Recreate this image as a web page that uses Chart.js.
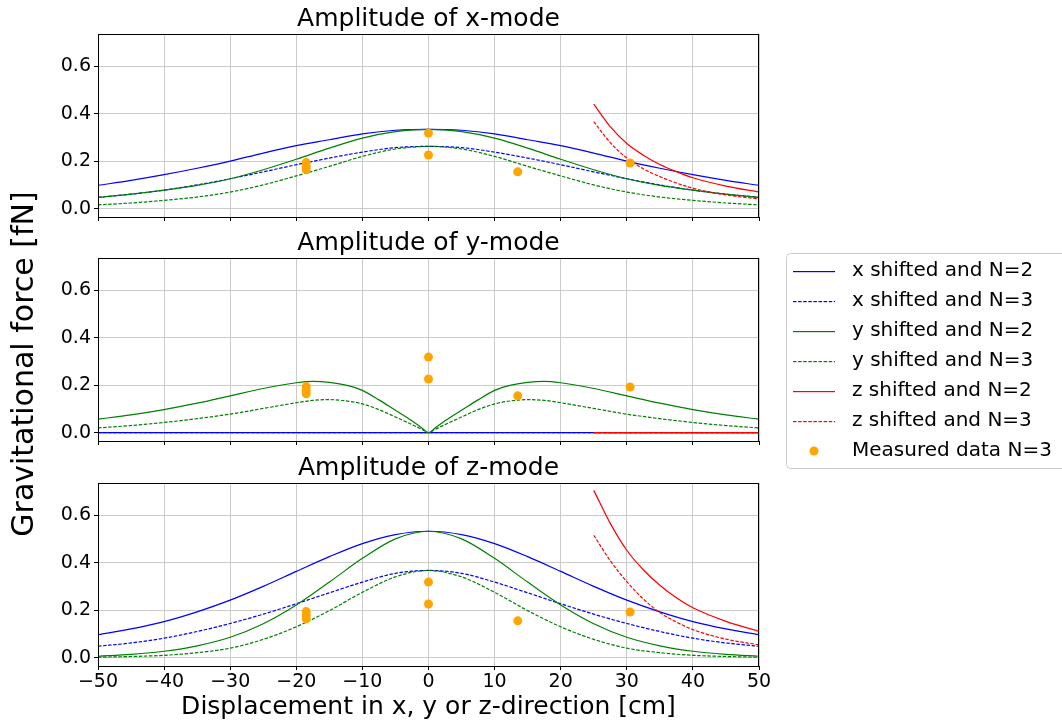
<!DOCTYPE html>
<html>
<head>
<meta charset="utf-8">
<script src="https://cdn.jsdelivr.net/npm/chart.js@4.4.1/dist/chart.umd.min.js"></script>
<style>
  html, body { margin: 0; padding: 0; background: #fff; }
  #fig { position: relative; width: 1062px; height: 724px; background: #fff; overflow: hidden; }
  #fig canvas { position: absolute; left: 0; top: 0; }
</style>
</head>
<body>
<div id="fig">
  <canvas id="xMode" width="1062" height="724"></canvas>
  <canvas id="yMode" width="1062" height="724"></canvas>
  <canvas id="zMode" width="1062" height="724"></canvas>
</div>
<script>
// ---- data ----
const xTicks = [-50, -40, -30, -20, -10, 0, 10, 20, 30, 40, 50];
const yTicks = [0, 0.2, 0.4, 0.6];
const yMin = -0.035;
const yMax = 0.735;

const xFull = [-50, -45, -40, -35, -30, -25, -20, -15, -10, -5, 0, 5, 10, 15, 20, 25, 30, 35, 40, 45, 50];
const xCusp = [-50, -45, -40, -35, -30, -25, -20, -17.5, -15, -12.5, -10, -7.5, -5, -2.5, -1, 0,
               1, 2.5, 5, 7.5, 10, 12.5, 15, 17.5, 20, 25, 30, 35, 40, 45, 50];
const xRed = [25, 27.5, 30, 32.5, 35, 37.5, 40, 45, 50];
const xZeroFull = [-50, 50];
const xZeroRed = [25, 50];

// amplitude of x-mode
const xmBlue2 = [0.098, 0.119, 0.143, 0.170, 0.200, 0.234, 0.265, 0.290, 0.315, 0.330, 0.334,
                 0.330, 0.315, 0.290, 0.265, 0.234, 0.200, 0.170, 0.143, 0.119, 0.098];
const xmBlue3 = [0.048, 0.061, 0.078, 0.100, 0.126, 0.155, 0.185, 0.213, 0.238, 0.257, 0.262,
                 0.257, 0.238, 0.213, 0.185, 0.155, 0.126, 0.100, 0.078, 0.061, 0.048];
const xmGreen2 = [0.047, 0.061, 0.078, 0.098, 0.126, 0.164, 0.208, 0.255, 0.297, 0.324, 0.334,
                  0.324, 0.297, 0.255, 0.208, 0.164, 0.126, 0.098, 0.078, 0.061, 0.047];
const xmGreen3 = [0.016, 0.024, 0.035, 0.049, 0.070, 0.100, 0.138, 0.178, 0.220, 0.251, 0.262,
                  0.251, 0.220, 0.178, 0.138, 0.100, 0.070, 0.049, 0.035, 0.024, 0.016];
const xmRed2 = [0.440, 0.345, 0.274, 0.225, 0.186, 0.156, 0.130, 0.095, 0.070];
const xmRed3 = [0.366, 0.278, 0.213, 0.168, 0.135, 0.108, 0.086, 0.058, 0.041];

// amplitude of y-mode
const ymZero = [0, 0];
const ymGreen2 = [0.057, 0.075, 0.097, 0.124, 0.155, 0.186, 0.210, 0.216, 0.212, 0.200, 0.178, 0.138, 0.094, 0.050, 0.020, 0,
                  0.020, 0.050, 0.094, 0.138, 0.178, 0.200, 0.212, 0.216, 0.210, 0.186, 0.155, 0.124, 0.097, 0.075, 0.057];
const ymGreen3 = [0.020, 0.030, 0.043, 0.059, 0.078, 0.102, 0.126, 0.136, 0.139, 0.134, 0.121, 0.097, 0.066, 0.034, 0.014, 0,
                  0.014, 0.034, 0.066, 0.097, 0.121, 0.134, 0.139, 0.136, 0.126, 0.102, 0.078, 0.059, 0.043, 0.030, 0.020];

// amplitude of z-mode
const zmBlue2 = [0.097, 0.121, 0.152, 0.193, 0.242, 0.300, 0.363, 0.425, 0.480, 0.518, 0.532,
                 0.518, 0.480, 0.425, 0.363, 0.300, 0.242, 0.193, 0.152, 0.121, 0.097];
const zmBlue3 = [0.048, 0.062, 0.082, 0.110, 0.144, 0.183, 0.227, 0.273, 0.318, 0.355, 0.367,
                 0.355, 0.318, 0.273, 0.227, 0.183, 0.144, 0.110, 0.082, 0.062, 0.048];
const zmGreen2 = [0.006, 0.014, 0.027, 0.050, 0.086, 0.143, 0.222, 0.318, 0.418, 0.500, 0.532,
                  0.500, 0.418, 0.318, 0.222, 0.143, 0.086, 0.050, 0.027, 0.014, 0.006];
const zmGreen3 = [0.002, 0.005, 0.010, 0.021, 0.040, 0.077, 0.130, 0.198, 0.275, 0.340, 0.367,
                  0.340, 0.275, 0.198, 0.130, 0.077, 0.040, 0.021, 0.010, 0.005, 0.002];
const zmRed2 = [0.704, 0.565, 0.452, 0.370, 0.305, 0.252, 0.210, 0.153, 0.111];
const zmRed3 = [0.515, 0.408, 0.320, 0.247, 0.190, 0.150, 0.118, 0.078, 0.054];

// measured data N=3 (same in every panel)
const measX = [-18.5, -18.5, -18.5, 0, 0, 13.5, 30.5];
const measY = [0.194, 0.178, 0.164, 0.318, 0.226, 0.155, 0.192];

const labels = [
  "x shifted and N=2", "x shifted and N=3",
  "y shifted and N=2", "y shifted and N=3",
  "z shifted and N=2", "z shifted and N=3",
  "Measured data N=3",
];

Chart.defaults.font.family = "'DejaVu Sans', sans-serif";
Chart.defaults.color = "#000";

const BLUE = "#0000ff", GREEN = "#008000", RED = "#ff0000", ORANGE = "#ffa500";
const DASH = [3.5, 1.6];
const seriesColors = [BLUE, BLUE, GREEN, GREEN, RED, RED, ORANGE];
const seriesDashed = [false, true, false, true, false, true, false];

function pts(xs, ys) {
  return xs.map((x, i) => ({ x: x, y: ys[i] }));
}

function lineSet(i, xs, ys) {
  return {
    label: labels[i],
    data: pts(xs, ys),
    borderColor: seriesColors[i],
    backgroundColor: seriesColors[i],
    borderWidth: 1.2,
    borderDash: seriesDashed[i] ? DASH : [],
    pointRadius: 0,
    cubicInterpolationMode: "monotone",
    fill: false,
    order: 7 - i,
  };
}

function measSet() {
  return {
    label: labels[6],
    data: pts(measX, measY),
    showLine: false,
    pointRadius: 4.5,
    pointBackgroundColor: ORANGE,
    pointBorderWidth: 0,
    borderColor: ORANGE,
    backgroundColor: ORANGE,
    order: 1,
  };
}

// black box around each axes, drawn over the curves
const framePlugin = {
  id: "frame",
  afterDatasetsDraw(chart) {
    const { ctx, chartArea: a } = chart;
    ctx.save();
    ctx.strokeStyle = "#000";
    ctx.lineWidth = 1;
    ctx.strokeRect(a.left + 0.5, a.top + 0.5, a.right - a.left - 1, a.bottom - a.top);
    ctx.restore();
  },
};

// figure legend + shared y label, drawn by the middle panel
const figurePlugin = {
  id: "figureDecor",
  afterDraw(chart) {
    const ctx = chart.ctx;
    ctx.save();
    ctx.fillStyle = "rgba(255,255,255,0.8)";
    ctx.strokeStyle = "#cccccc";
    ctx.lineWidth = 1;
    ctx.beginPath();
    ctx.roundRect(786.5, 253.5, 290, 215, 4);
    ctx.fill();
    ctx.stroke();

    ctx.font = "20px 'DejaVu Sans'";
    ctx.textBaseline = "middle";
    ctx.textAlign = "left";
    chart.data.datasets.forEach((ds, i) => {
      const y = 271 + i * 30;
      ctx.fillStyle = seriesColors[i];
      if (i === 6) {
        ctx.beginPath();
        ctx.arc(814, y, 4.5, 0, Math.PI * 2);
        ctx.fill();
      } else if (seriesDashed[i]) {
        for (let x = 793; x < 835; x += DASH[0] + DASH[1]) {
          ctx.fillRect(x, y, Math.min(DASH[0], 835 - x), 1.2);
        }
      } else {
        ctx.fillRect(793, y, 42, 1.2);
      }
      ctx.fillStyle = "#000";
      ctx.fillText(ds.label, 852, y);
    });

    ctx.translate(33, 364);
    ctx.rotate(-Math.PI / 2);
    ctx.font = "30px 'DejaVu Sans'";
    ctx.textAlign = "center";
    ctx.textBaseline = "alphabetic";
    ctx.fillStyle = "#000";
    ctx.fillText("Gravitational force [fN]", 0, 0);
    ctx.restore();
  },
};

function makePanel(id, title, datasets, padTop, padBottom, isBottom, extra) {
  return new Chart(document.getElementById(id), {
    type: "line",
    data: { datasets: datasets },
    options: {
      responsive: false,
      animation: false,
      layout: { padding: { top: padTop, bottom: padBottom, left: 0, right: 303 } },
      plugins: {
        legend: { display: false },
        tooltip: { enabled: false },
        title: {
          display: true,
          text: title,
          fullSize: false,
          color: "#000",
          font: { size: 25, weight: "normal" },
          padding: { top: 4, bottom: 0 },
        },
      },
      scales: {
        x: {
          type: "linear",
          min: -50,
          max: 50,
          afterBuildTicks: (axis) => { axis.ticks = xTicks.map((v) => ({ value: v })); },
          afterFit: (axis) => { axis.height = isBottom ? 58 : 8; },
          ticks: {
            display: isBottom,
            autoSkip: false,
            maxRotation: 0,
            padding: 1,
            font: { size: 19 },
            color: "#000",
            callback: (v) => (v < 0 ? "\u2212" + Math.abs(v) : String(v)),
          },
          grid: { color: "#cbcbcb", lineWidth: 1, tickColor: "#000", tickLength: 4 },
          border: { display: false },
          title: {
            display: isBottom,
            text: "Displacement in x, y or z-direction [cm]",
            color: "#000",
            font: { size: 25 },
            padding: { top: 0, bottom: 2 },
          },
        },
        y: {
          min: yMin,
          max: yMax,
          afterBuildTicks: (axis) => { axis.ticks = yTicks.map((v) => ({ value: v })); },
          afterFit: (axis) => { axis.width = 98; },
          ticks: {
            padding: 3,
            font: { size: 19 },
            color: "#000",
            callback: (v) => Number(v).toFixed(1),
          },
          grid: { color: "#cbcbcb", lineWidth: 1, tickColor: "#000", tickLength: 4 },
          border: { display: false },
        },
      },
    },
    plugins: extra ? [framePlugin, extra] : [framePlugin],
  });
}

makePanel("xMode", "Amplitude of x-mode", [
  lineSet(0, xFull, xmBlue2),
  lineSet(1, xFull, xmBlue3),
  lineSet(2, xFull, xmGreen2),
  lineSet(3, xFull, xmGreen3),
  lineSet(4, xRed, xmRed2),
  lineSet(5, xRed, xmRed3),
  measSet(),
], 0, 499, false, null);

makePanel("yMode", "Amplitude of y-mode", [
  lineSet(0, xZeroFull, ymZero),
  lineSet(1, xZeroFull, ymZero),
  lineSet(2, xCusp, ymGreen2),
  lineSet(3, xCusp, ymGreen3),
  lineSet(4, xZeroRed, ymZero),
  lineSet(5, xZeroRed, ymZero),
  measSet(),
], 224, 275, false, figurePlugin);

makePanel("zMode", "Amplitude of z-mode", [
  lineSet(0, xFull, zmBlue2),
  lineSet(1, xFull, zmBlue3),
  lineSet(2, xFull, zmGreen2),
  lineSet(3, xFull, zmGreen3),
  lineSet(4, xRed, zmRed2),
  lineSet(5, xRed, zmRed3),
  measSet(),
], 449, 0, true, null);
</script>
</body>
</html>
